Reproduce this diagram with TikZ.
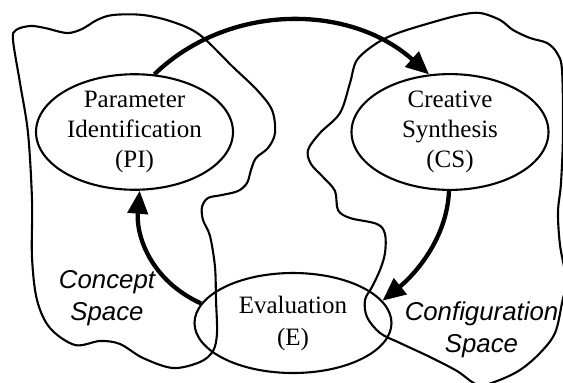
\documentclass[tikz,border=0pt]{standalone}
\usepackage{fontspec}
\setmainfont{Liberation Serif}
\newfontfamily\sansfam{Liberation Sans}
\usetikzlibrary{shapes.geometric,arrows.meta}
\tikzset{
  blob/.style={draw=black, line width=2.1pt, line join=round},
  stage/.style={ellipse, draw=black, line width=2.1pt, minimum width=197pt, minimum height=100pt, inner sep=0pt, align=center, font=\fontsize{25}{30}\selectfont},
  flow/.style={line width=4.3pt, -{Triangle[length=23pt,width=20pt]}},
  spacelabel/.style={align=center, font=\sansfam\itshape\fontsize{25.8}{32.5}\selectfont}
}
\begin{document}
\begin{tikzpicture}[x=1pt,y=-1pt]
\useasboundingbox (0,0) rectangle (563,383);
\begin{scope}
\clip (0,0) rectangle (563,383);
% Concept space blob
\draw[blob] plot[smooth cycle, tension=0.55] coordinates {
 (16,30) (30,26) (45,28) (67,33) (82,29) (97,20) (113,15) (143,15) (173,22) (200,35)
 (233,67) (257,90) (272,110) (275,133) (268,148) (256,158) (251,170) (247,183)
 (238,191) (222,195) (208,198) (202,207) (203,220) (210,236) (215,267) (216,300)
 (217,333) (213,351) (200,362) (173,368) (143,358) (120,344) (100,341) (75,345)
 (50,328) (37,300) (32,257) (32,200) (28,133) (20,83) (13,40)};
% Configuration space blob
\draw[blob] plot[smooth cycle, tension=0.55] coordinates {
 (398,33) (430,23) (460,15) (480,13) (500,20) (513,30) (530,38) (547,43) (557,53)
 (562,70) (563,133) (561,183) (558,212) (560,245) (566,280) (562,303) (555,333)
 (540,353) (520,370) (497,381) (478,385) (457,371) (430,357) (400,343) (380,333)
 (367,317) (365,300) (372,287) (380,270) (385,253) (385,234) (377,224) (350,218)
 (338,210) (335,191) (323,177) (311,164) (308,150) (320,133) (340,113) (350,83)
 (357,60) (377,43)};
\end{scope}
% Stages
\node[stage] (PI) at (134.5,132) {Parameter\\Identification\\(PI)};
\node[stage] (CS) at (450,132) {Creative\\Synthesis\\(CS)};
\node[stage] (E) at (293,323) {Evaluation\\[2pt](E)};
% Flows
\draw[flow] (PI.71) .. controls (228,3) and (349,3) .. (CS.110);
\draw[flow] (CS.-91) .. controls (447,240) and (413,276) .. (E.14);
\draw[flow] (E.168) .. controls (150,280) and (136,235) .. (PI.-85);
% Space labels
\node[spacelabel] (cs) at (107,298) {Concept\\Space};
\node[spacelabel] (fs) at (481.5,330) {Configuration\\Space};
\end{tikzpicture}
\end{document}
